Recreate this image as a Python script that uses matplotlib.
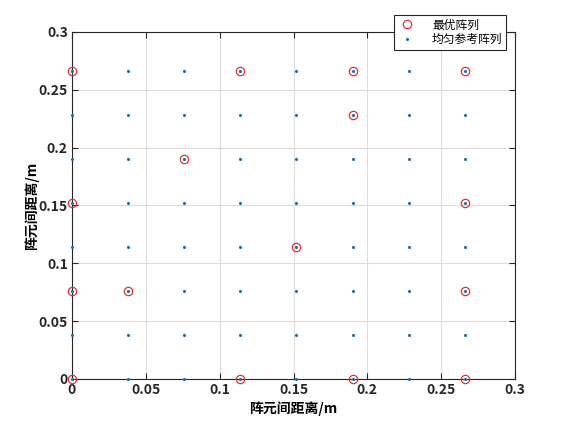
import numpy as np
import matplotlib
matplotlib.use("Agg")
import matplotlib.pyplot as plt

plt.rcParams['font.family'] = ['Noto Sans CJK SC', 'DejaVu Sans']

# uniform reference array grid
grid_x = [0, 0.038, 0.076, 0.114, 0.152, 0.19, 0.228, 0.266]
grid_y = [0, 0.038, 0.076, 0.114, 0.152, 0.19, 0.228, 0.266]

# optimal array elements
opt_x = [0, 0.114, 0.19, 0.266, 0.19, 0.076, 0, 0.266, 0.152, 0, 0.038, 0.266, 0, 0.114, 0.19, 0.266]
opt_y = [0.266, 0.266, 0.266, 0.266, 0.228, 0.19, 0.152, 0.152, 0.114, 0.076, 0.076, 0.076, 0, 0, 0, 0]

gx, gy = np.meshgrid(grid_x, grid_y)

fig = plt.figure(figsize=(5.69, 4.25), dpi=100)
ax = fig.add_axes([72 / 569, 46 / 425, 443 / 569, 347 / 425])

ax.plot(opt_x, opt_y, 'o', markersize=6, markerfacecolor='none',
        markeredgecolor='#e8302a', markeredgewidth=0.9, linestyle='none',
        label='最优阵列', clip_on=False, zorder=3)
ax.plot(gx.ravel(), gy.ravel(), '.', markersize=2.5, color='#1f6fb4',
        linestyle='none', label='均匀参考阵列', clip_on=False, zorder=4)

ax.set_xlim(0, 0.3)
ax.set_ylim(0, 0.3)
ax.set_xticks([0, 0.05, 0.1, 0.15, 0.2, 0.25, 0.3])
ax.set_yticks([0, 0.05, 0.1, 0.15, 0.2, 0.25, 0.3])
ax.set_xticklabels(['0', '0.05', '0.1', '0.15', '0.2', '0.25', '0.3'])
ax.set_yticklabels(['0', '0.05', '0.1', '0.15', '0.2', '0.25', '0.3'])
ax.grid(True, color='#dcdcdc', linewidth=0.8)
ax.set_axisbelow(True)
ax.tick_params(direction='in', length=4, width=0.8, labelsize=10, pad=3,
               top=True, right=True, colors='#262626')
for lab in ax.get_xticklabels() + ax.get_yticklabels():
    lab.set_fontweight('bold')
for s in ax.spines.values():
    s.set_color('#262626')
    s.set_linewidth(0.8)

ax.set_xlabel('阵元间距离/m', fontsize=10, fontweight='bold', labelpad=3)
ax.set_ylabel('阵元间距离/m', fontsize=10, fontweight='bold', labelpad=0)

leg = ax.legend(loc='upper right', bbox_to_anchor=(506 / 569, 1 - 15 / 425),
                bbox_transform=fig.transFigure, fontsize=8.5, frameon=True,
                fancybox=False, edgecolor='#262626', framealpha=1,
                borderpad=0.3, handletextpad=1.3, labelspacing=0.15,
                handlelength=1.6, borderaxespad=0)
leg.get_frame().set_linewidth(0.8)

fig.savefig('out.png', dpi=100)
